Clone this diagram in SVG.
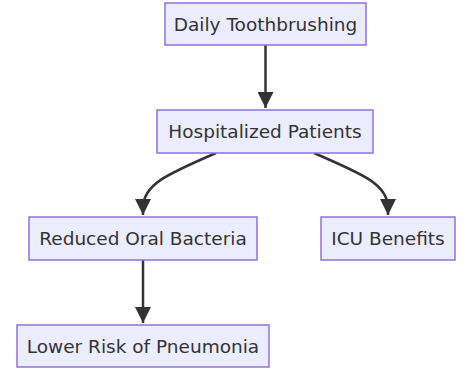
<svg xmlns="http://www.w3.org/2000/svg" width="474" height="372" viewBox="0 0 474 372">
<style>
.node rect{fill:#ECECFF;stroke:#9370DB;stroke-width:1.5}
.node text{font-family:"DejaVu Sans",Verdana,sans-serif;font-size:18.5px;fill:#333;text-anchor:middle;dominant-baseline:central}
.edge{fill:none;stroke:#333;stroke-width:2.5}
</style>
<defs>
<marker id="arr" markerUnits="userSpaceOnUse" markerWidth="16" markerHeight="16" viewBox="0 0 10 10" refX="10" refY="5" orient="auto">
<path d="M0,0 L10,5 L0,10 z" fill="#333"/>
</marker>
</defs>
<rect width="474" height="372" fill="#fff"/>
<g id="edges">
<path class="edge" d="M265.5,45 L265.5,108" marker-end="url(#arr)"/>
<path class="edge" d="M216,153 C165,175 143,185 143,208 L143,215" marker-end="url(#arr)"/>
<path class="edge" d="M314,153 C365,175 388,185 388,208 L388,215" marker-end="url(#arr)"/>
<path class="edge" d="M143,260 L143,323" marker-end="url(#arr)"/>
</g>
<g id="daily" class="node"><rect x="165" y="3" width="201" height="42"/><text x="265.5" y="24">Daily Toothbrushing</text></g>
<g id="hospitalized" class="node"><rect x="157" y="110" width="216" height="43"/><text x="265" y="131.5">Hospitalized Patients</text></g>
<g id="reduced" class="node"><rect x="29" y="217" width="228" height="43"/><text x="143" y="238.5">Reduced Oral Bacteria</text></g>
<g id="icu" class="node"><rect x="321" y="217" width="134" height="43"/><text x="388" y="238.5">ICU Benefits</text></g>
<g id="lower" class="node"><rect x="17" y="325" width="252" height="42"/><text x="143" y="346">Lower Risk of Pneumonia</text></g>
</svg>
